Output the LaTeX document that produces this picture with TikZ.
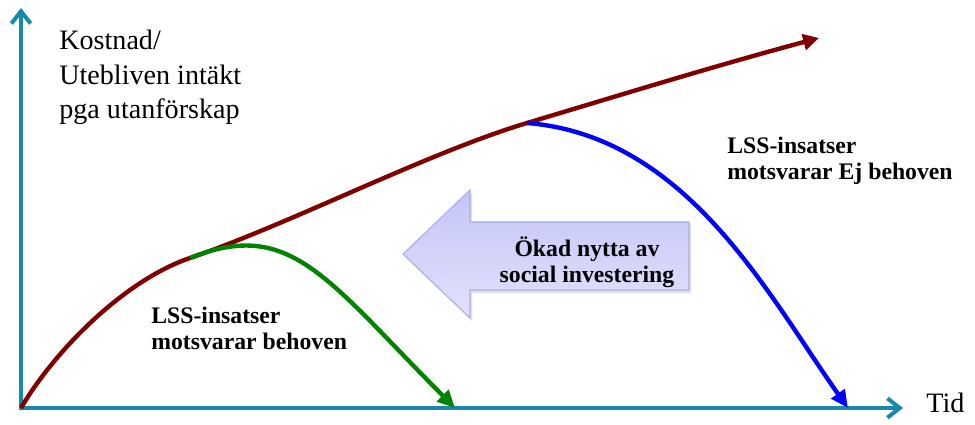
\documentclass[tikz,border=0pt]{standalone}
\usepackage{fontspec}
\setmainfont{Liberation Serif}
\usepackage{tikz}
\usetikzlibrary{arrows.meta, calc, positioning}
\definecolor{axisteal}{RGB}{22,138,168}
\definecolor{costred}{RGB}{128,0,0}
\definecolor{goodgreen}{RGB}{0,132,0}
\definecolor{badblue}{RGB}{0,0,255}
\definecolor{gaintop}{RGB}{196,196,248}
\definecolor{gainbot}{RGB}{226,226,252}
\definecolor{gainedge}{RGB}{172,172,234}
\newcommand{\gainarrow}{(403,254) -- (470,190) -- (470,222) -- (689,222) -- (689,290) -- (470,290) -- (470,318) -- cycle}
\tikzset{
  axis/.style      ={draw=axisteal, line width=2.3pt,
                     {Straight Barb[length=7pt, width=11pt]}-{Straight Barb[length=7pt, width=11pt]}},
  costline/.style  ={draw=costred, line width=2.5pt, -{Triangle[length=9pt, width=9pt]}},
  metline/.style   ={draw=goodgreen, line width=2.5pt, -{Triangle[length=10pt, width=9pt]}},
  unmetline/.style ={draw=badblue, line width=2.5pt, -{Triangle[length=10pt, width=9pt]}},
  gain/.style      ={top color=gaintop, bottom color=gainbot, draw=gainedge, line width=0.6pt},
  gainshadow/.style={fill=black!20, opacity=0.6},
  axlbl/.style     ={font=\fontsize{16}{19.8}\selectfont, align=left, inner sep=0pt},
  note/.style      ={font=\bfseries\fontsize{13.5}{15.3}\selectfont, align=left, inner sep=0pt},
}

\begin{document}
\begin{tikzpicture}[x=0.02cm, y=-0.02cm]
  \useasboundingbox (0,0) rectangle (975,425);
  \coordinate (O)    at (21,408);
  \coordinate (ytop) at (21,8);
  \coordinate (xend) at (903,408);
  % where the two outcomes leave the cost curve
  \coordinate (g0)   at (190,258);
  \coordinate (b0)   at (527,123);
  \coordinate (cend) at (819,38);
  \coordinate (gfin) at (455,408);
  \coordinate (bfin) at (848,408);

  \path[gainshadow, shift={(2,3)}] \gainarrow;
  \path[gain] \gainarrow;
  % base anchor sits on the last line
  \node[note, align=center, anchor=base] (gaintxt) at (587,283) {Ökad nytta av\\social investering};

  \draw[axis] (ytop) -- (O) -- (xend);
  \draw[costline] (O) .. controls (55,350) and (125,280) .. (g0)
                      .. controls (290,224) and (427,153) .. (b0)
                      .. controls (627,93) and (718,65) .. (cend);
  \draw[metline] (g0) .. controls (290,218) and (325,277) .. (gfin);
  \draw[unmetline] (b0) .. controls (687,136) and (768,295) .. (bfin);

  \node[axlbl, anchor=base west] (ylbl) at (59,119) {Kostnad/\\Utebliven intäkt\\pga utanförskap};
  \node[axlbl, anchor=base west] (xlbl) at (926,413) {Tid};
  \node[note, anchor=base west] (met)   at (151,350) {LSS-insatser\\motsvarar behoven};
  \node[note, anchor=base west] (unmet) at (727,180) {LSS-insatser\\motsvarar Ej behoven};
\end{tikzpicture}
\end{document}
